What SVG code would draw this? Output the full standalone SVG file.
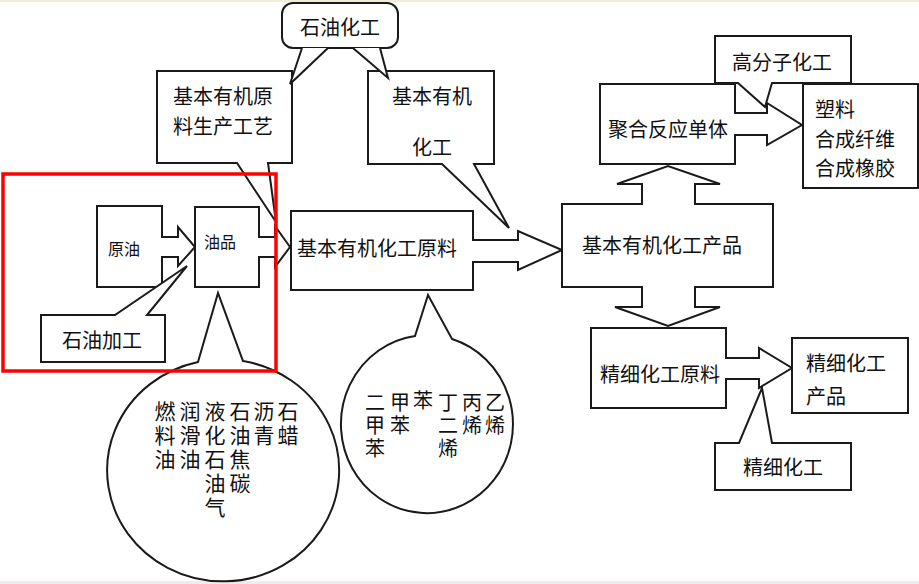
<svg xmlns="http://www.w3.org/2000/svg" width="919" height="584" viewBox="0 0 919 584">
<defs>
<style>
.s{fill:#fff;stroke:#1a1a1a;stroke-width:2;stroke-linejoin:miter}
.t{font-family:"Noto Sans CJK SC","Liberation Sans",sans-serif;font-size:20px;fill:#111;dominant-baseline:central}
.m{font-size:16px}
.v{font-family:"Noto Sans CJK SC","Liberation Sans",sans-serif;fill:#111;writing-mode:vertical-rl;font-size:21px;letter-spacing:3px}
.v2{font-family:"Noto Sans CJK SC","Liberation Sans",sans-serif;fill:#111;writing-mode:vertical-rl;font-size:20px;letter-spacing:3px}
</style>
</defs>
<rect x="0" y="0" width="919" height="584" fill="#fff"/>
<rect x="0" y="0" width="919" height="2" fill="#f4ead6"/>
<rect x="0" y="581" width="919" height="3" fill="#f1ede6"/>

<g id="n-shiyouhuagong">
<rect class="s" x="282" y="3" width="116" height="45" rx="11"/>
<text class="t" x="300" y="26">石油化工</text>
</g>

<g id="n-shengchangongyi">
<path class="s" d="M157,71 H292 V163 H268 L276,222 L237,163 H157 Z"/>
<text class="t" x="173" y="95">基本有机原</text>
<text class="t" x="173" y="125">料生产工艺</text>
</g>

<g id="n-jibenyoujihuagong">
<path class="s" d="M368,71 H494 V164 H474 L509,228 L442,164 H368 Z"/>
<text class="t" x="392" y="95">基本有机</text>
<text class="t" x="412" y="146">化工</text>
</g>

<g id="n-yuanyou">
<path class="s" d="M97,206 H162 V237 H178 V227 L195,247 L178,266 V257 H162 V287 H97 Z"/>
<text class="t m" x="108" y="248">原油</text>
</g>

<g id="n-youpin">
<path class="s" d="M195,207 H259 V237 H275 V226 L290,247 L275,267 V257 H259 V287 H195 Z"/>
<text class="t m" x="204" y="241">油品</text>
</g>

<g id="n-shiyoujiagong">
<path class="s" d="M41,315 H115 L187,266 L147,315 H165 V362 H41 Z"/>
<text class="t" x="62" y="339">石油加工</text>
</g>

<g id="n-youpin-list">
<path class="s" d="M198,362 L218,293 L243,361 A116,111 0 1 1 198,362 Z"/>
<text class="v" x="288" y="401">石蜡</text>
<text class="v" x="264" y="401">沥青</text>
<text class="v" x="240" y="401">石油焦碳</text>
<text class="v" x="215" y="401">液化石油气</text>
<text class="v" x="190" y="401">润滑油</text>
<text class="v" x="165" y="401">燃料油</text>
</g>

<g id="n-jibenyuanliao">
<path class="s" d="M291,211 H473 V240 H518 V231 L562,250 L518,270 V262 H473 V290 H291 Z"/>
<text class="t" x="297" y="247">基本有机化工原料</text>
</g>

<g id="n-yuanliao-list">
<path class="s" d="M415,336 L428,295 L452,339 A86,89 0 1 1 415,336 Z"/>
<text class="v2" x="495" y="392">乙烯</text>
<text class="v2" x="472" y="392">丙烯</text>
<text class="v2" x="448" y="392">丁二烯</text>
<text class="v2" x="423" y="390">苯</text>
<text class="v2" x="400" y="392">甲苯</text>
<text class="v2" x="375" y="392">二甲苯</text>
</g>

<g id="n-jibenchanpin">
<path class="s" d="M562,204 H642 V184 H617 L668,166 L720,184 H695 V204 H773 V287 H695 V307 H720 L668,326 L615,307 H642 V287 H562 Z"/>
<text class="t" x="582" y="244">基本有机化工产品</text>
</g>

<g id="n-gaofenzi">
<path class="s" d="M715,36 H851 V83 H772 L765,107 L738,83 H715 Z"/>
<text class="t" x="732" y="61">高分子化工</text>
</g>

<g id="n-juhe">
<path class="s" d="M600,84 H735 V113 H767 V103 L802,125 L767,145 V135 H735 V164 H600 Z"/>
<text class="t" x="608" y="128">聚合反应单体</text>
</g>

<g id="n-suliao">
<rect class="s" x="803" y="84" width="115" height="104"/>
<text class="t" x="815" y="108">塑料</text>
<text class="t" x="815" y="138">合成纤维</text>
<text class="t" x="815" y="167">合成橡胶</text>
</g>

<g id="n-jingxiyuanliao">
<path class="s" d="M591,328 H726 V358 H759 V348 L792,368 L759,388 V379 H726 V408 H591 Z"/>
<text class="t" x="600" y="373">精细化工原料</text>
</g>

<g id="n-jingxichanpin">
<rect class="s" x="792" y="338" width="116" height="75"/>
<text class="t" x="806" y="362">精细化工</text>
<text class="t" x="806" y="395">产品</text>
</g>

<g id="n-jingxihuagong">
<path class="s" d="M715,443 H739 L762,388 L772,443 H851 V490 H715 Z"/>
<text class="t" x="743" y="466">精细化工</text>
</g>

<g id="connectors">
<polyline class="s" points="302,48 290,84 328,48"/>
<polyline class="s" points="353,48 388,78 380,48"/>
</g>

<rect x="3" y="174" width="273" height="197" fill="none" stroke="#f00" stroke-width="3.5"/>
</svg>
